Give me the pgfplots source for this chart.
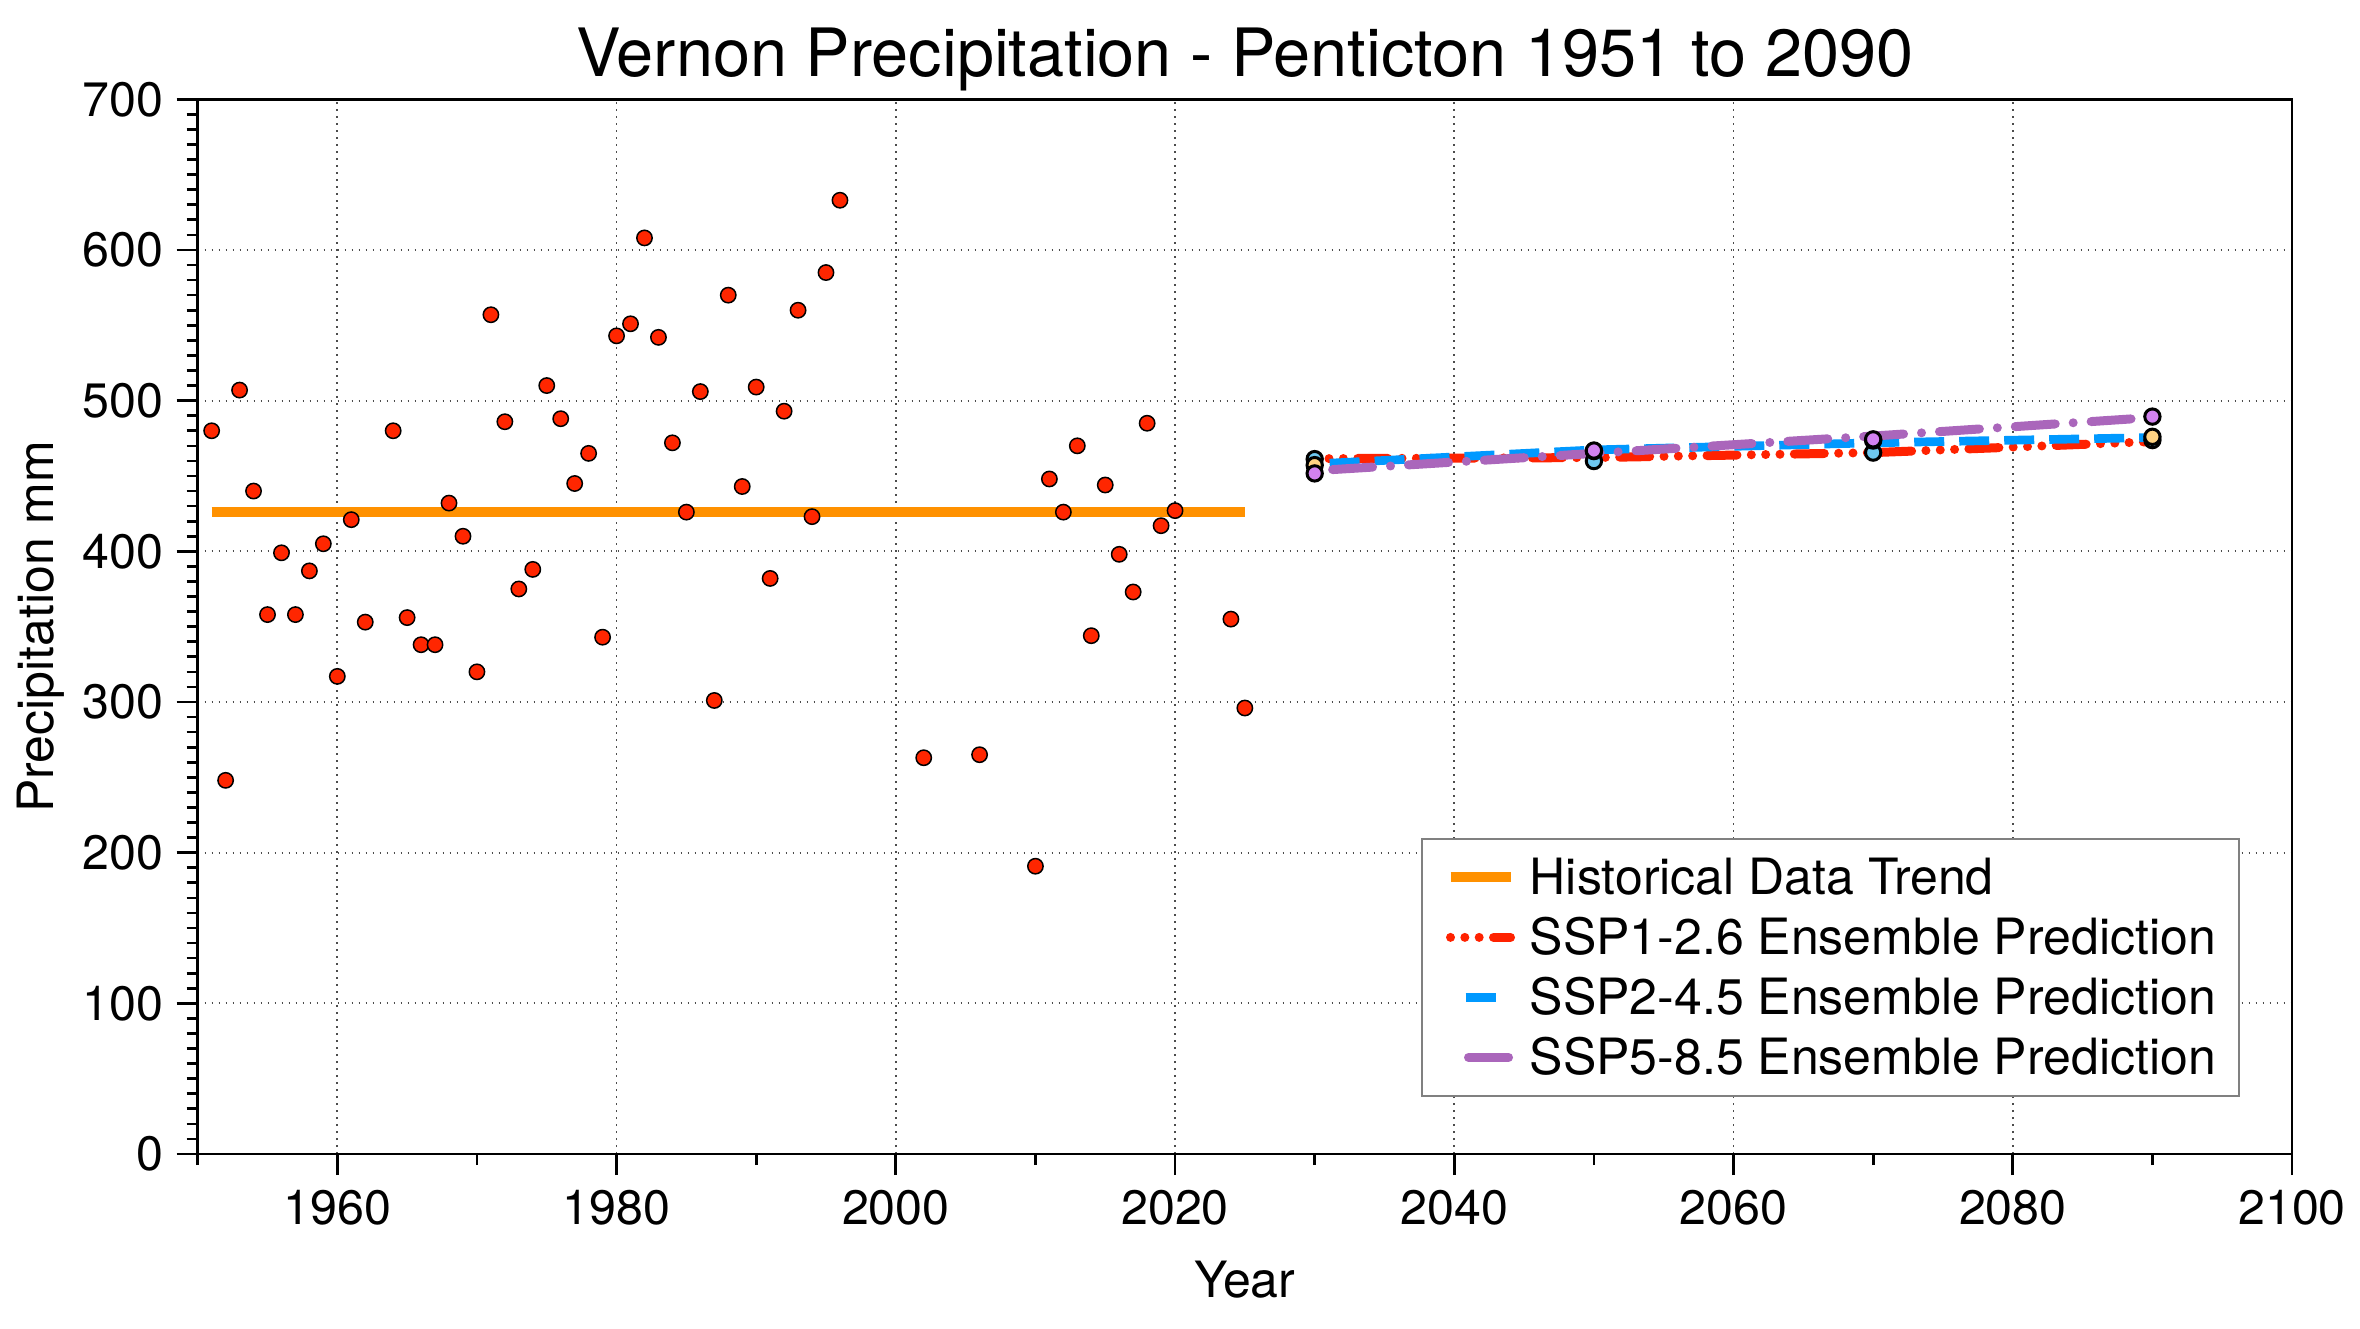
\documentclass[border=0pt]{standalone}
\usepackage{fontspec}
\setmainfont{TeX Gyre Heros}
\usepackage{pgfplots}
\pgfplotsset{compat=1.18}
\definecolor{scatred}{RGB}{255,38,0}
\definecolor{historange}{RGB}{255,145,0}
\definecolor{sspred}{RGB}{255,34,0}
\definecolor{sspblue}{RGB}{0,153,255}
\definecolor{ssppurple}{RGB}{170,102,187}
\definecolor{mkblue}{RGB}{110,200,240}
\definecolor{mkorange}{RGB}{255,210,130}
\definecolor{mkpurple}{RGB}{210,130,240}
\begin{document}
\begin{tikzpicture}
\useasboundingbox (-59.31pt,-52.2pt) rectangle (648.69pt,346.2pt);
\begin{axis}[
  scale only axis,
  width=628.29pt, height=316.41pt,
  xmin=1950, xmax=2100, ymin=0, ymax=700,
  xtick={1960,1980,...,2100},
  minor xtick={1950,1970,...,2090},
  ytick={0,100,...,700},
  minor y tick num=9,
  xtick pos=lower, ytick pos=left,
  tick align=outside,
  major tick length=6.3pt, minor tick length=3.3pt,
  every tick/.style={black, line width=0.8pt},
  axis line style={line width=0.8pt},
  grid=major,
  major grid style={gray!60!black, line width=0.55pt, dash pattern=on 0.5pt off 1.6pt},
  /pgf/number format/assume math mode=true,
  /pgf/number format/1000 sep={},
  ticklabel style={font=\fontsize{14.5}{17}\selectfont},
  xticklabel style={inner sep=0pt, anchor=north, yshift=-4.5pt},
  yticklabel style={inner sep=0pt, anchor=east, xshift=-3.8pt},
  xlabel={Year},
  ylabel={Precipitation mm},
  every axis x label/.style={at={(axis description cs:0.5,-0.1365)}, anchor=base, font=\fontsize{15}{18}\selectfont},
  every axis y label/.style={at={(axis description cs:-0.0748,0.5)}, anchor=center, rotate=90, font=\fontsize{15}{18}\selectfont},
  title={Vernon Precipitation - Penticton 1951 to 2090},
  every axis title/.style={at={(axis description cs:0.5,1.0212)}, anchor=base, font=\fontsize{20}{24}\selectfont},
  legend image code/.code={\draw[#1] (0pt,0pt) -- (18pt,0pt);},
  legend style={at={(rel axis cs:0.9752,0.0543)}, anchor=south east,
    draw=gray, line width=0.6pt, inner xsep=7pt, inner ysep=4.5pt,
    font=\fontsize{15}{18}\selectfont,
    nodes={inner sep=0pt, text height=12pt, text depth=2pt},
    row sep=4pt, column sep=4.3pt,
    cells={anchor=west}},
]
% historical scatter
\addplot[only marks, mark=*, mark size=2.3pt, mark options={fill=scatred, draw=black, line width=0.45pt}, forget plot]
coordinates {
(1951,480) (1952,248) (1953,507) (1954,440) (1955,358) (1956,399) (1957,358) (1958,387)
(1959,405) (1960,317) (1961,421) (1962,353) (1964,480) (1965,356) (1966,338) (1967,338)
(1968,432) (1969,410) (1970,320) (1971,557) (1972,486) (1973,375) (1974,388) (1975,510)
(1976,488) (1977,445) (1978,465) (1979,343) (1980,543) (1981,551) (1982,608) (1983,542)
(1984,472) (1985,426) (1986,506) (1987,301) (1988,570) (1989,443) (1990,509) (1991,382)
(1992,493) (1993,560) (1994,423) (1995,585) (1996,633) (2002,263) (2006,265) (2010,191)
(2011,448) (2012,426) (2013,470) (2014,344) (2015,444) (2016,398) (2017,373) (2018,485)
(2019,417) (2020,427) (2024,355) (2025,296)
};
% historical trend
\addplot[historange, line width=3pt, no markers] coordinates {(1951,426) (2025,426)};
\addlegendentry{Historical Data Trend}
% SSP1-2.6
\addplot[sspred, line width=2.7pt, no markers, line cap=round,
  dash pattern=on 0pt off 4.3pt on 0pt off 4.3pt on 0pt off 4.3pt on 9pt off 4.3pt]
coordinates {(2030,461.5) (2050,462.2) (2070,465.5) (2090,472.8)};
\addlegendentry{SSP1-2.6 Ensemble Prediction}
% SSP2-4.5
\addplot[sspblue, line width=2.6pt, no markers, line cap=butt,
  dash pattern=on 9pt off 4.5pt, dash phase=9pt]
coordinates {(2030,458) (2050,467.3) (2070,472) (2090,475.5)};
\addlegendentry{SSP2-4.5 Ensemble Prediction}
% SSP5-8.5
\addplot[ssppurple, line width=2.7pt, no markers, line cap=round,
  dash pattern=on 12pt off 5.4pt on 0pt off 5.4pt, dash phase=17.4pt]
coordinates {(2030,453.5) (2050,465) (2070,476.5) (2090,488.8)};
\addlegendentry{SSP5-8.5 Ensemble Prediction}
% ensemble markers
\addplot[only marks, mark=*, mark size=2.3pt, mark options={fill=mkblue, draw=black, line width=0.9pt}, forget plot]
coordinates {(2030,461.2) (2050,459.9) (2070,465.5) (2090,473.8)};
\addplot[only marks, mark=*, mark size=2.3pt, mark options={fill=mkorange, draw=black, line width=0.9pt}, forget plot]
coordinates {(2030,457.2) (2050,466.5) (2070,473.5) (2090,476.0)};
\addplot[only marks, mark=*, mark size=2.3pt, mark options={fill=mkpurple, draw=black, line width=0.9pt}, forget plot]
coordinates {(2030,451.7) (2050,466.9) (2070,474.3) (2090,489.4)};
\end{axis}
\end{tikzpicture}
\end{document}
